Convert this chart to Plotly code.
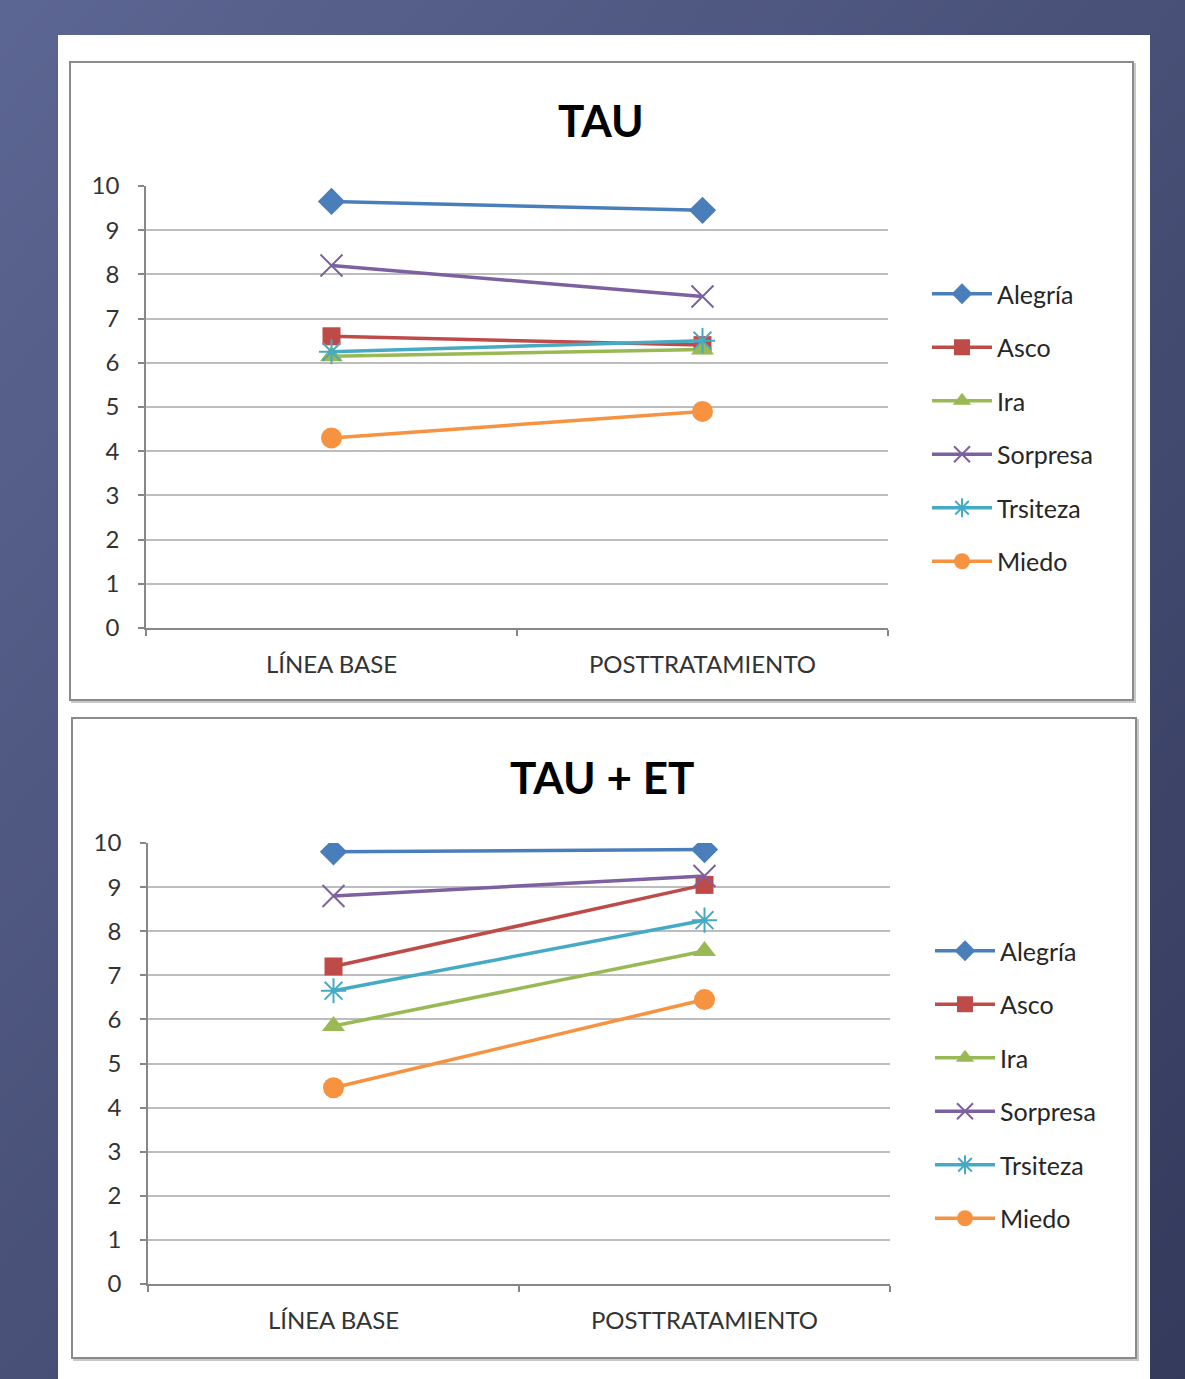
import base64
import plotly.graph_objects as go

W, H = 1185, 1379

categories = ["LÍNEA BASE", "POSTTRATAMIENTO"]
series_names = ["Alegría", "Asco", "Ira", "Sorpresa", "Trsiteza", "Miedo"]
tau_alegria = [9.65, 9.45]
tau_asco = [6.6, 6.4]
tau_ira = [6.15, 6.3]
tau_sorpresa = [8.2, 7.5]
tau_trsiteza = [6.25, 6.5]
tau_miedo = [4.3, 4.9]
tauet_alegria = [9.8, 9.85]
tauet_asco = [7.2, 9.05]
tauet_ira = [5.85, 7.55]
tauet_sorpresa = [8.8, 9.25]
tauet_trsiteza = [6.65, 8.25]
tauet_miedo = [4.45, 6.45]
y_ticks = [0, 1, 2, 3, 4, 5, 6, 7, 8, 9, 10]

colors = ["#4A7EBB", "#BE4B48", "#98B954", "#7D60A0", "#46AAC5", "#F69240"]
symbols = ["diamond", "square", "triangle-up", "x-thin-open", "asterisk-open", "circle"]
sizes = [21, 18, 20, 22, 21, 21]

FONT = "Lato, 'Open Sans', sans-serif"

def px(x):
    return x / W

def py(y):
    return 1 - y / H

fig = go.Figure()

tau = [tau_alegria, tau_asco, tau_ira, tau_sorpresa, tau_trsiteza, tau_miedo]
tauet = [tauet_alegria, tauet_asco, tauet_ira, tauet_sorpresa, tauet_trsiteza, tauet_miedo]

for idx, (data, xa, ya, lg) in enumerate([(tau, "x", "y", "legend"), (tauet, "x2", "y2", "legend2")]):
    for i, name in enumerate(series_names):
        sym = symbols[i]
        open_sym = sym.endswith("-open")
        fig.add_trace(go.Scatter(
            x=categories, y=data[i], name=name, mode="lines+markers",
            xaxis=xa, yaxis=ya, legend=lg, legendgroup=f"{lg}{i}",
            line=dict(color=colors[i], width=3.5),
            marker=dict(symbol=sym, size=sizes[i], color=colors[i],
                        line=dict(color=colors[i], width=2 if open_sym else 0)),
            hoverinfo="x+y+name",
        ))

axis_common_x = dict(
    type="category", range=[-0.5, 1.5], showgrid=False, showline=True,
    linecolor="#878787", linewidth=1.5, ticks="outside", tickson="boundaries",
    ticklen=6, tickcolor="#878787", tickwidth=1.5, ticklabelstandoff=14,
    tickfont=dict(family=FONT, size=24, color="#333333"), fixedrange=True,
)
axis_common_y = dict(
    range=[0, 10], tickvals=y_ticks, showgrid=True, gridcolor="#BDBDBD", gridwidth=1.5,
    showline=True, linecolor="#878787", linewidth=1.5, ticks="outside", ticklen=6,
    tickcolor="#878787", tickwidth=1.5, zeroline=False, ticklabelstandoff=14,
    tickfont=dict(family=FONT, size=24, color="#333333"), fixedrange=True,
)

fig.update_layout(
    width=W, height=H, margin=dict(l=0, r=0, t=0, b=0, autoexpand=False),
    paper_bgcolor="#4a5380", plot_bgcolor="white",
    xaxis=dict(domain=[px(146), px(888)], anchor="y", **axis_common_x),
    yaxis=dict(domain=[py(628), py(186)], anchor="x", **axis_common_y),
    xaxis2=dict(domain=[px(148), px(890)], anchor="y2", **axis_common_x),
    yaxis2=dict(domain=[py(1284), py(843)], anchor="x2", **axis_common_y),
    legend=dict(x=px(927), y=py(271), xanchor="left", yanchor="top",
                font=dict(family=FONT, size=25, color="#262626"),
                bgcolor="rgba(0,0,0,0)", tracegroupgap=18, itemwidth=60),
    legend2=dict(x=px(930), y=py(928), xanchor="left", yanchor="top",
                 font=dict(family=FONT, size=25, color="#262626"),
                 bgcolor="rgba(0,0,0,0)", tracegroupgap=18, itemwidth=60),
    showlegend=True,
)

svg = ('<svg xmlns="http://www.w3.org/2000/svg" width="1185" height="1379">'
       '<defs><linearGradient id="g" x1="0" y1="0" x2="1" y2="1">'
       '<stop offset="0" stop-color="#5c6692"/><stop offset="1" stop-color="#343a5c"/>'
       '</linearGradient></defs><rect width="1185" height="1379" fill="url(#g)"/></svg>')
src = "data:image/svg+xml;base64," + base64.b64encode(svg.encode()).decode()
fig.add_layout_image(dict(source=src, xref="paper", yref="paper", x=0, y=1,
                          sizex=1, sizey=1, xanchor="left", yanchor="top",
                          sizing="stretch", layer="below"))

shapes = []
shapes.append(dict(type="rect", xref="paper", yref="paper", x0=px(58), x1=px(1150),
                   y0=py(1379), y1=py(35), fillcolor="white", line=dict(width=0), layer="below"))
for (x0, y0, x1, y1) in [(70, 62, 1133, 700), (72, 718, 1136, 1358)]:
    shapes.append(dict(type="rect", xref="paper", yref="paper", x0=px(x0 + 2), x1=px(x1 + 2),
                       y0=py(y1 + 2), y1=py(y0 + 2), fillcolor="rgba(0,0,0,0)",
                       line=dict(color="#c8c8c8", width=2), layer="below"))
    shapes.append(dict(type="rect", xref="paper", yref="paper", x0=px(x0), x1=px(x1),
                       y0=py(y1), y1=py(y0), fillcolor="white",
                       line=dict(color="#8a8a8a", width=2), layer="below"))
fig.update_layout(shapes=shapes)

for text, x, y in [("TAU", 601, 120), ("TAU + ET", 602, 777)]:
    fig.add_annotation(text=f"<b>{text}</b>", xref="paper", yref="paper", x=px(x), y=py(y),
                       xanchor="center", yanchor="middle", showarrow=False,
                       font=dict(family=FONT, size=44, color="#000000"))

fig.write_html(
    "out.html",
    config={"displayModeBar": False},
    post_script="document.body.style.margin='0';document.body.style.overflow='hidden';",
)
